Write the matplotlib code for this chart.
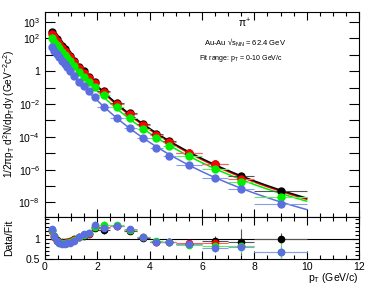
import numpy as np
import matplotlib
matplotlib.use("Agg")
import matplotlib.pyplot as plt
from matplotlib.ticker import FixedLocator, FixedFormatter, MultipleLocator

plt.rcParams['font.family'] = ['Liberation Sans', 'DejaVu Sans']
plt.rcParams['mathtext.default'] = 'regular'

# ---------------- data ----------------
pt = [0.25, 0.35, 0.45, 0.55, 0.65, 0.75, 0.85, 0.95, 1.1, 1.3, 1.5, 1.7, 1.9,
      2.25, 2.75, 3.25, 3.75, 4.25, 4.75, 5.5, 6.5, 7.5, 9.0]
pt_halfwidth = [0.05] * 8 + [0.1] * 5 + [0.25] * 6 + [0.5] * 3 + [1.0]

black_y = [234, 141, 87, 54, 33, 21, 13.5, 8.5, 4.2, 1.86, 0.95, 0.47, 0.21, 0.065,
           0.012, 2.7e-3, 6.0e-4, 1.5e-4, 5.4e-5, 1.1e-5, 2.2e-6, 4.1e-7, 5.0e-8]
red_y = [190, 115, 71, 44, 27, 17, 11, 6.9, 3.4, 1.55, 0.81, 0.40, 0.18, 0.056,
         0.0105, 2.3e-3, 5.4e-4, 1.3e-4, 4.8e-5, 1.07e-5, 2.1e-6, 2.8e-7]
green_y = [100, 62, 38, 24, 15, 9.5, 6.2, 4.0, 1.95, 0.89, 0.46, 0.23, 0.105, 0.033,
           6.3e-3, 1.4e-3, 3.2e-4, 7.9e-5, 2.8e-5, 6.8e-6, 1.15e-6, 1.8e-7, 2.2e-8]
blue_y = [29, 17.4, 10.7, 6.8, 4.2, 2.6, 1.7, 1.07, 0.52, 0.23, 0.12, 0.059, 0.026,
          6.9e-3, 1.35e-3, 3.3e-4, 8.1e-5, 2.0e-5, 6.8e-6, 1.9e-6, 3.0e-7, 6.6e-8, 7.9e-9]

black_ratio = [1.22, 1.08, 0.97, 0.93, 0.92, 0.92, 0.93, 0.95, 1.0, 1.05, 1.08, 1.12, 1.28,
               1.22, 1.33, 1.2, 1.02, 0.92, 0.93, 0.88, 0.95, 0.93, 1.0]
red_ratio = [1.2, 1.06, 0.96, 0.92, 0.91, 0.91, 0.92, 0.94, 0.99, 1.04, 1.1, 1.13, 1.3,
             1.3, 1.33, 1.22, 1.04, 0.92, 0.92, 0.9, 0.9, 0.82]
green_ratio = [1.22, 1.07, 0.95, 0.91, 0.9, 0.9, 0.91, 0.93, 0.98, 1.05, 1.1, 1.16, 1.3,
               1.35, 1.35, 1.22, 1.05, 0.95, 0.92, 0.86, 0.82, 0.82, 0.68]
blue_ratio = [1.24, 1.08, 0.95, 0.9, 0.88, 0.88, 0.89, 0.9, 0.95, 1.04, 1.12, 1.15, 1.35,
              1.28, 1.33, 1.25, 1.06, 0.93, 0.93, 0.87, 0.78, 0.81, 0.68]

# relative uncertainties
black_rel = [0.03] * 12 + [0.06, 0.08, 0.06, 0.07, 0.07, 0.08, 0.08, 0.08, 0.12, 0.35, 0.15]
red_rel = [0.03] * 12 + [0.06, 0.08, 0.06, 0.07, 0.07, 0.08, 0.08, 0.08, 0.12, 0.15]
green_rel = [0.03] * 12 + [0.06, 0.08, 0.06, 0.07, 0.07, 0.08, 0.08, 0.08, 0.12, 0.2, 0.45]
blue_rel = [0.03] * 12 + [0.07, 0.1, 0.06, 0.07, 0.07, 0.08, 0.08, 0.08, 0.12, 0.12, 0.2]

# (name, values, data/fit, rel. error, colour, error colour, fit-modulation degree)
series = [
    ("black", black_y, black_ratio, black_rel, "black", "#555555", None),
    ("red", red_y, red_ratio, red_rel, "#ff0000", "#ff6060", 0),
    ("green", green_y, green_ratio, green_rel, "#00ee00", "#60ee60", 1),
    ("blue", blue_y, blue_ratio, blue_rel, "#5a6ee0", "#8c9bea", 1),
]


def basis(x):
    x = np.asarray(x, dtype=float)
    return np.column_stack([np.ones_like(x), np.log(1 + x / 3.0), np.log(x), x])


# ---------------- figure ----------------
W, H = 374, 290
fig = plt.figure(figsize=(W / 100, H / 100), dpi=100)
L, R = 45 / W, 359 / W
ax = fig.add_axes([L, 1 - 217 / H, R - L, (217 - 12) / H])
axr = fig.add_axes([L, 1 - 259 / H, R - L, (259 - 217) / H], sharex=ax)

x_fit = np.linspace(0.22, 10, 300)
ref_coef = None
for name, y, ratio, rel, col, ecol, deg in series:
    n = len(y)
    xs = np.array(pt[:n]); xe = np.array(pt_halfwidth[:n])
    ys = np.array(y); rs = np.array(ratio); re = np.array(rel)
    target = np.log10(ys / rs)  # fitted values (data / (data/fit))
    if ref_coef is None:
        ref_coef, *_ = np.linalg.lstsq(basis(xs), target, rcond=None)
        log_fit = basis(x_fit) @ ref_coef
    else:
        off = np.polyfit(xs, target - basis(xs) @ ref_coef, deg)
        log_fit = basis(x_fit) @ ref_coef + np.polyval(off, x_fit)
    lz = 2.5 if name == "black" else 2
    ax.plot(x_fit, 10 ** log_fit, color=col, lw=1.1, zorder=lz)
    ax.errorbar(xs, ys, xerr=xe, yerr=ys * re, fmt='none', ecolor=ecol, elinewidth=0.8, zorder=3)
    ax.plot(xs, ys, 'o', color=col, ms=5, mec=col, zorder=4)
    axr.errorbar(xs, rs, xerr=xe, yerr=rs * re, fmt='none', ecolor=ecol, elinewidth=0.8, zorder=3)
    axr.plot(xs, rs, 'o', color=col, ms=4.5, mec=col, zorder=4)

axr.plot([0.2, 12], [1, 1], color='black', lw=0.8, zorder=2)

ax.set_yscale('log')
ax.set_ylim(1.3e-9, 4e3)
ax.set_xlim(0, 12)
axr.set_ylim(0.5, 1.55)

decades = [10.0 ** k for k in range(-9, 4)]
labels_map = {3: '$10^{3}$', 2: '$10^{2}$', 0: '1', -2: '$10^{-2}$', -4: '$10^{-4}$',
              -6: '$10^{-6}$', -8: '$10^{-8}$'}
ax.yaxis.set_major_locator(FixedLocator(decades))
ax.yaxis.set_major_formatter(FixedFormatter([labels_map.get(k, '') for k in range(-9, 4)]))
ax.yaxis.set_minor_locator(FixedLocator([]))

for a in (ax, axr):
    a.tick_params(which='both', direction='in', top=True, right=True, labelsize=7.5, width=0.8)
    a.tick_params(which='major', length=6)
    a.tick_params(which='minor', length=3)
    a.xaxis.set_major_locator(MultipleLocator(2))
    a.xaxis.set_minor_locator(MultipleLocator(0.5))
    for s in a.spines.values():
        s.set_linewidth(0.8)
ax.tick_params(axis='x', labelbottom=False)
ax.tick_params(axis='y', which='major', length=7)
axr.yaxis.set_major_locator(FixedLocator([0.5, 1.0]))
axr.yaxis.set_major_formatter(FixedFormatter(['0.5', '1']))
axr.yaxis.set_minor_locator(MultipleLocator(0.1))
axr.tick_params(axis='x', pad=2)

fig.text(9 / W, 1 - 114 / H, '1/2πp$_T$ d$^2$N/dp$_T$dy (GeV$^{-2}$c$^2$)', rotation=90,
         ha='center', va='center', fontsize=7.2)
fig.text(9 / W, 1 - 238 / H, 'Data/Fit', rotation=90, ha='center', va='center', fontsize=7.5)
fig.text(R, 1 - 285 / H, 'p$_T$ (GeV/c)', ha='right', va='bottom', fontsize=7.5)

fig.text(245 / W, 1 - 23 / H, 'π$^{+}$', ha='center', va='center', fontsize=7.5)
fig.text(245 / W, 1 - 43 / H, 'Au-Au √s$_{NN}$ = 62.4 GeV', ha='center', va='center', fontsize=5.5)
fig.text(241 / W, 1 - 58 / H, 'Fit range: p$_T$ = 0-10 GeV/c', ha='center', va='center', fontsize=5)

fig.savefig('out.png', dpi=100)
